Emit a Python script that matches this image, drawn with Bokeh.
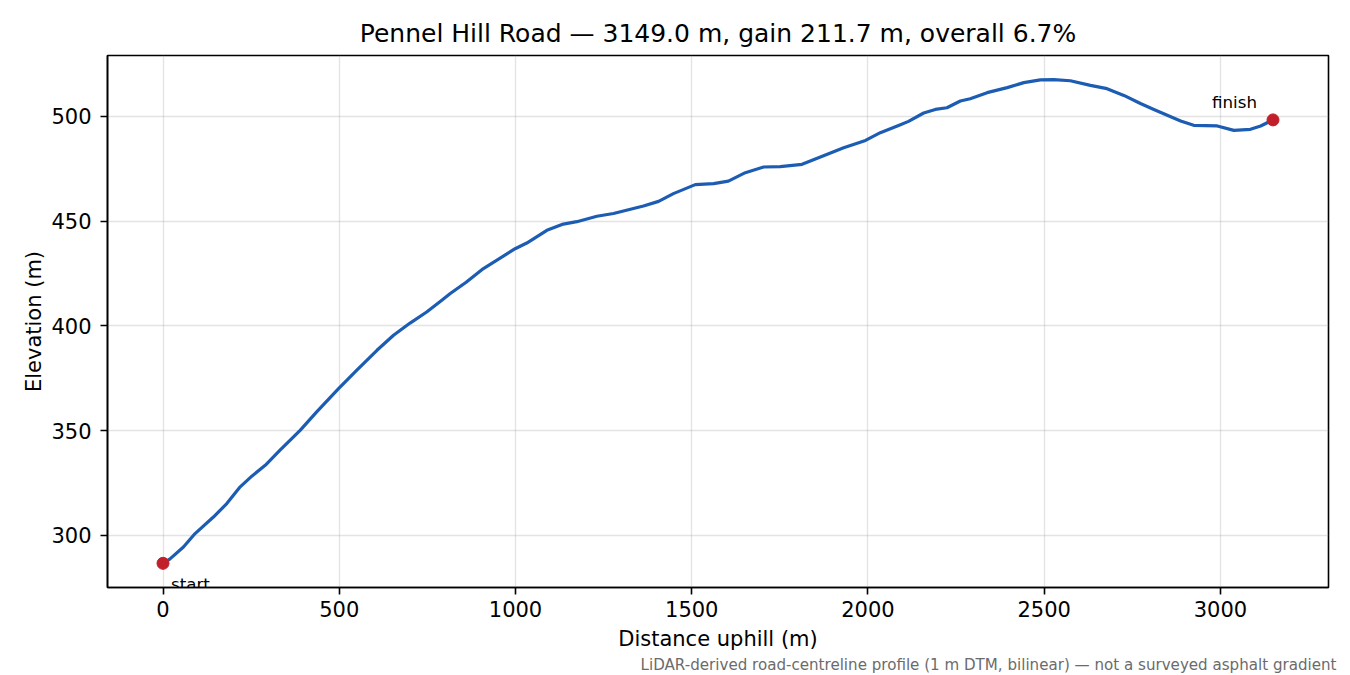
from bokeh.core.properties import value
from bokeh.embed import file_html
from bokeh.models import ColumnDataSource, SingleIntervalTicker, Range1d, Title
from bokeh.plotting import figure
from bokeh.resources import INLINE

# profile (distance uphill in m, elevation in m)
distance = [0, 20, 58, 91, 143, 181, 219, 252, 290, 332, 389, 436, 498, 550, 607,
            654, 701, 748, 791, 815, 860, 909, 999, 1032, 1089, 1132, 1174, 1231,
            1278, 1363, 1406, 1448, 1510, 1562, 1604, 1652, 1704, 1751, 1813, 1865,
            1931, 1993, 2035, 2092, 2115, 2158, 2191, 2224, 2262, 2290, 2338, 2395,
            2442, 2489, 2527, 2574, 2631, 2678, 2726, 2773, 2811, 2849, 2887, 2924,
            2991, 3038, 3085, 3114, 3149]
elevation = [286.6, 288.7, 294.4, 300.8, 308.7, 315.1, 323.1, 328.2, 333.4, 340.6,
             350.1, 358.9, 370.0, 378.8, 388.3, 395.5, 401.3, 406.6, 412.2, 415.4,
             420.8, 427.3, 436.8, 439.5, 445.6, 448.4, 449.7, 452.3, 453.6, 457.2,
             459.4, 463.1, 467.4, 467.9, 469.1, 473.1, 475.8, 476.0, 477.1, 480.6,
             485.0, 488.5, 492.2, 496.0, 497.6, 501.6, 503.3, 504.1, 507.3, 508.4,
             511.3, 513.7, 516.1, 517.4, 517.5, 517.0, 514.8, 513.2, 510.0, 506.1,
             503.3, 500.5, 497.8, 495.7, 495.4, 493.3, 493.8, 495.4, 498.3]

end_labels = ["start", "finish"]
road = "Pennel Hill Road"
length_m = 3149.0
gain_m = 211.7
grade_pct = 6.7
note = "LiDAR-derived road-centreline profile (1 m DTM, bilinear) \u2014 not a surveyed asphalt gradient"

FONT = "DejaVu Sans"

# matplotlib-like 5% margins
xspan = max(distance) - min(distance)
yspan = max(elevation) - min(elevation)
x_range = Range1d(min(distance) - 0.05 * xspan, max(distance) + 0.05 * xspan)
y_range = Range1d(min(elevation) - 0.05 * yspan, max(elevation) + 0.05 * yspan)

p = figure(width=1342, height=674, x_range=x_range, y_range=y_range,
           output_backend="svg", toolbar_location=None,
           min_border_left=107, min_border_right=14, min_border_top=55, min_border_bottom=87)

# footnote first so it ends up lowest in the below panel
foot = Title(text=note, align="right", text_font=FONT, text_font_size="15.1px",
             text_font_style="normal", text_color="#6b6b6b", offset=-8, standoff=0)
p.add_layout(foot, "below")

p.title.text = f"{road} \u2014 {length_m:.1f} m, gain {gain_m:.1f} m, overall {grade_pct:.1f}%"
p.title.align = "center"
p.title.text_font = FONT
p.title.text_font_size = "25px"
p.title.text_font_style = "normal"
p.title.text_color = "black"
p.title.standoff = 15

p.outline_line_color = "black"
p.outline_line_width = 1.6
p.outline_line_alpha = 1.0

p.xaxis.ticker = SingleIntervalTicker(interval=500, num_minor_ticks=0)
p.yaxis.ticker = SingleIntervalTicker(interval=50, num_minor_ticks=0)
p.xaxis.axis_label = "Distance uphill (m)"
p.yaxis.axis_label = "Elevation (m)"
for ax in (p.xaxis, p.yaxis):
    ax.axis_label_text_font = FONT
    ax.axis_label_text_font_size = "21px"
    ax.axis_label_text_font_style = "normal"
    ax.axis_label_text_color = "black"
    ax.major_label_text_font = FONT
    ax.major_label_text_font_size = "21px"
    ax.major_label_text_color = "black"
    ax.axis_line_color = "black"
    ax.axis_line_width = 1.6
    ax.major_tick_line_color = "black"
    ax.major_tick_line_width = 1.6
    ax.major_tick_in = 0
    ax.major_tick_out = 7
    ax.minor_tick_line_color = None
    ax.major_label_standoff = 7
    ax.axis_label_standoff = 8
p.xaxis.major_label_standoff = 6
p.xaxis.axis_label_standoff = 7
p.yaxis.major_label_orientation = "horizontal"
p.yaxis.major_label_standoff = 9
p.yaxis.axis_label_standoff = 2

p.grid.grid_line_color = "#b0b0b0"
p.grid.grid_line_alpha = 0.35
p.grid.grid_line_width = 1.3

source = ColumnDataSource(data=dict(d=distance, e=elevation))
p.line("d", "e", source=source, line_color="#1c5db3", line_width=3.2, line_join="round")

ends = ColumnDataSource(data=dict(
    d=[distance[0], distance[-1]],
    e=[elevation[0], elevation[-1]],
    label=end_labels,
))
p.scatter("d", "e", source=ends, size=12, color="#c1202b")

p.text(x=[distance[0]], y=[elevation[0]], text=[end_labels[0]],
       x_offset=8, y_offset=11, text_font=value(FONT), text_font_size="16.7px",
       text_color="black", text_align="left", text_baseline="top")
p.text(x=[distance[-1]], y=[elevation[-1]], text=[end_labels[1]],
       x_offset=-16, y_offset=-28, text_font=value(FONT), text_font_size="16.7px",
       text_color="black", text_align="right", text_baseline="top")

open("out.html", "w").write(file_html(p, INLINE))
